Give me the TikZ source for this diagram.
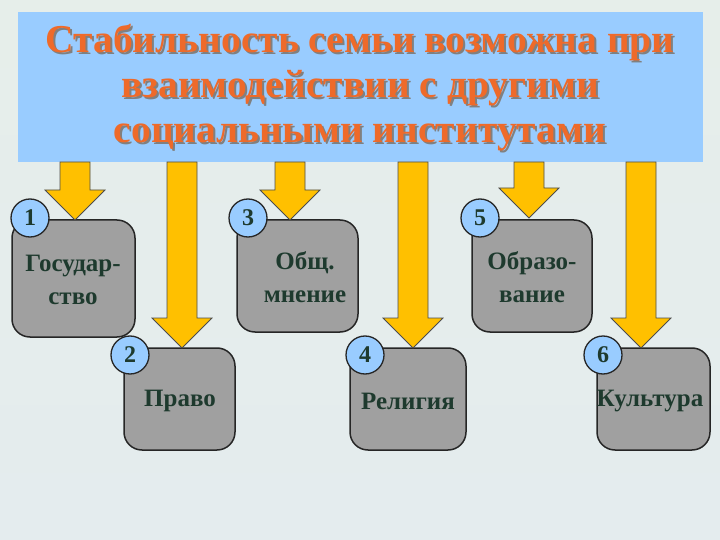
\documentclass[tikz,border=0pt]{standalone}
\usepackage{fontspec}
\setmainfont{Liberation Serif}
\definecolor{titlebg}{HTML}{99CCFF}
\definecolor{titlefg}{HTML}{EE6A2A}
\definecolor{badgec}{HTML}{99CCFF}
\definecolor{arrc}{HTML}{FFC000}
\definecolor{boxc}{HTML}{A0A0A0}
\definecolor{txtc}{HTML}{1E3A2E}
\definecolor{bgtop}{HTML}{E6EEEA}
\definecolor{bgbot}{HTML}{E4ECEE}
\begin{document}
\begin{tikzpicture}[x=1pt,y=-1pt,
  box/.style={draw=black!85,line width=1.5pt,fill=boxc,rounded corners=18pt},
  badge/.style={circle,draw=black!85,line width=1.3pt,fill=badgec,minimum size=38pt,inner sep=0pt,font=\fontsize{24}{24}\selectfont\bfseries,text=txtc},
  arr/.style={fill=arrc,draw=black!70,line width=0.8pt},
  lbl/.style={font=\fontsize{25}{33}\selectfont\bfseries,text=txtc,align=center}]
\shade[top color=bgtop,bottom color=bgbot] (0,0) rectangle (720,540);
\useasboundingbox (0,0) rectangle (720,540);
\node[fill=titlebg,minimum width=685pt,minimum height=150pt,inner sep=0pt] (title) at (360.5,87) {};
\node[font=\fontsize{39.5}{45}\selectfont\bfseries,text=black!50,align=center] (ts) at (362,90) {Стабильность семьи возможна при\\взаимодействии с другими\\социальными институтами};
\node[font=\fontsize{39.5}{45}\selectfont\bfseries,text=titlefg,align=center] (tt) at (360,88) {Стабильность семьи возможна при\\взаимодействии с другими\\социальными институтами};
% boxes
\draw[box] (12,220) rectangle (135,337); \node[lbl] (b1) at (73,280) {Государ-\\ство};
\draw[box] (124,348) rectangle (235,450); \node[lbl] (b2) at (180,401) {Право};
\draw[box] (237,220) rectangle (358,332); \node[lbl] (b3) at (305,277) {Общ.\\мнение};
\draw[box] (350,348) rectangle (466,450); \node[lbl] (b4) at (408,401) {Религия};
\draw[box] (472,220) rectangle (592,332); \node[lbl] (b5) at (532,277) {Образо-\\вание};
\draw[box] (597,348) rectangle (710,450); \node[lbl] (b6) at (650,401) {Культура};
% arrows
\foreach \c/\t in {75/220,290/220,529/218}{
 \draw[arr] (\c-15,162) -- (\c-15,\t-30) -- (\c-30,\t-30) -- (\c,\t) -- (\c+30,\t-30) -- (\c+15,\t-30) -- (\c+15,162) -- cycle;}
\foreach \c in {182,413,641}{
 \draw[arr] (\c-15,162) -- (\c-15,318) -- (\c-30,318) -- (\c,348) -- (\c+30,318) -- (\c+15,318) -- (\c+15,162) -- cycle;}
% badges
\node[badge] (n1) at (30,218) {1};
\node[badge] (n2) at (130,355) {2};
\node[badge] (n3) at (248,218) {3};
\node[badge] (n4) at (365,355) {4};
\node[badge] (n5) at (480,218) {5};
\node[badge] (n6) at (603,355) {6};
\end{tikzpicture}
\end{document}
